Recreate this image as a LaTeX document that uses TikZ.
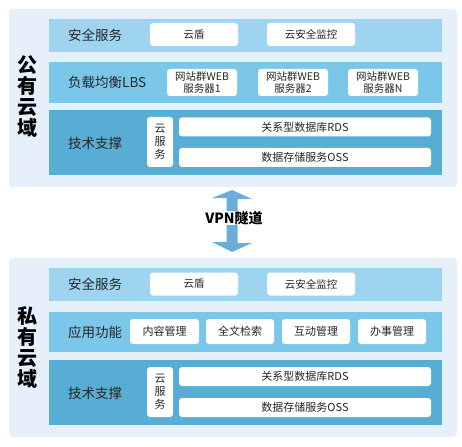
\documentclass[tikz,border=0pt]{standalone}
\usepackage{fontspec}
\setmainfont{Noto Sans CJK SC}
\definecolor{panelbg}{HTML}{E6F0FB}
\definecolor{rowa}{HTML}{9FD4F0}
\definecolor{rowb}{HTML}{7AC7EA}
\definecolor{rowc}{HTML}{58ADD4}
\definecolor{txt}{HTML}{262626}
\definecolor{arrowc}{HTML}{6AADDC}
\begin{document}
\begin{tikzpicture}[x=1pt,y=-1pt,
 panel/.style={fill=panelbg, rounded corners=4pt, inner sep=0, minimum width=448pt},
 rowbox/.style={inner sep=0, minimum width=393pt},
 wbox/.style={fill=white, rounded corners=3pt, inner sep=0, text=txt, font=\fontsize{10.5}{11.5}\selectfont, align=center},
 vbox/.style={wbox, minimum width=26pt, minimum height=50pt, font=\fontsize{11}{13}\selectfont},
 longbox/.style={wbox, minimum width=252pt, minimum height=19pt, font=\fontsize{11}{12}\selectfont},
 rowlabel/.style={anchor=west, text=txt, font=\fontsize{13.5}{15}\selectfont, inner sep=0},
 side/.style={font=\bfseries\fontsize{20}{21}\selectfont, align=center, inner sep=0, text=black}
]
\useasboundingbox (0,0) rectangle (462,446);

% ---------- public cloud ----------
\node[panel, minimum height=178pt] (pub) at (233,98) {};
\node[side] (publabel) at (27,97) {公\\有\\云\\域};

\node[rowbox, fill=rowa, minimum height=33pt] (pr1) at (245.5,35.5) {};
\node[rowbox, fill=rowb, minimum height=41pt] (pr2) at (245.5,82.5) {};
\node[rowbox, fill=rowc, minimum height=65pt] (pr3) at (245.5,142.5) {};

\node[rowlabel] (pl1) at (68,35.5) {安全服务};
\node[rowlabel] (pl2) at (68,82.5) {负载均衡LBS};
\node[rowlabel] (pl3) at (68,143) {技术支撑};

\node[wbox, minimum width=88pt, minimum height=23pt] (pa1) at (194,34.5) {云盾};
\node[wbox, minimum width=88pt, minimum height=23pt] (pa2) at (311,34.5) {云安全监控};

\node[wbox, minimum width=70pt, minimum height=27pt] (pb1) at (202,82.5) {网站群WEB\\服务器1};
\node[wbox, minimum width=70pt, minimum height=27pt] (pb2) at (293,82.5) {网站群WEB\\服务器2};
\node[wbox, minimum width=70pt, minimum height=27pt] (pb3) at (383,82.5) {网站群WEB\\服务器N};

\node[vbox] (pc0) at (160,142) {云\\服\\务};
\node[longbox] (pc1) at (305,127) {关系型数据库RDS};
\node[longbox] (pc2) at (305,157.5) {数据存储服务OSS};

% ---------- VPN arrow ----------
\coordinate (vtop) at (232,190);
\coordinate (vbot) at (232,252);
\fill[arrowc] (vtop) -- ++(20,9) -- ++(-14.5,0) -- ++(0,44) -- ++(14.5,0)
  -- (vbot) -- ++(-20,-10) -- ++(14.5,0) -- ++(0,-44) -- ++(-14.5,0) -- cycle;
\node[fill=white, inner xsep=1pt, inner ysep=0.5pt, font=\bfseries\fontsize{14}{16}\selectfont, text=black] (vpn) at (234,218) {VPN隧道};

% ---------- private cloud ----------
\node[panel, minimum height=179pt] (pri) at (233,347.5) {};
\node[side] (prilabel) at (27,347) {私\\有\\云\\域};

\node[rowbox, fill=rowa, minimum height=33pt] (qr1) at (245.5,284.5) {};
\node[rowbox, fill=rowb, minimum height=40pt] (qr2) at (245.5,332) {};
\node[rowbox, fill=rowc, minimum height=65pt] (qr3) at (245.5,392.5) {};

\node[rowlabel] (ql1) at (68,284.5) {安全服务};
\node[rowlabel] (ql2) at (68,332) {应用功能};
\node[rowlabel] (ql3) at (68,393) {技术支撑};

\node[wbox, minimum width=88pt, minimum height=23pt] (qa1) at (194,284) {云盾};
\node[wbox, minimum width=88pt, minimum height=23pt] (qa2) at (311,284) {云安全监控};

\node[wbox, minimum width=69pt, minimum height=25pt, font=\fontsize{11}{12}\selectfont] (qb1) at (164.5,331.5) {内容管理};
\node[wbox, minimum width=68pt, minimum height=25pt, font=\fontsize{11}{12}\selectfont] (qb2) at (240,331.5) {全文检索};
\node[wbox, minimum width=68pt, minimum height=25pt, font=\fontsize{11}{12}\selectfont] (qb3) at (316,331.5) {互动管理};
\node[wbox, minimum width=68pt, minimum height=25pt, font=\fontsize{11}{12}\selectfont] (qb4) at (392,331.5) {办事管理};

\node[vbox] (qc0) at (160,392) {云\\服\\务};
\node[longbox] (qc1) at (305,376.5) {关系型数据库RDS};
\node[longbox] (qc2) at (305,407.5) {数据存储服务OSS};
\end{tikzpicture}
\end{document}
